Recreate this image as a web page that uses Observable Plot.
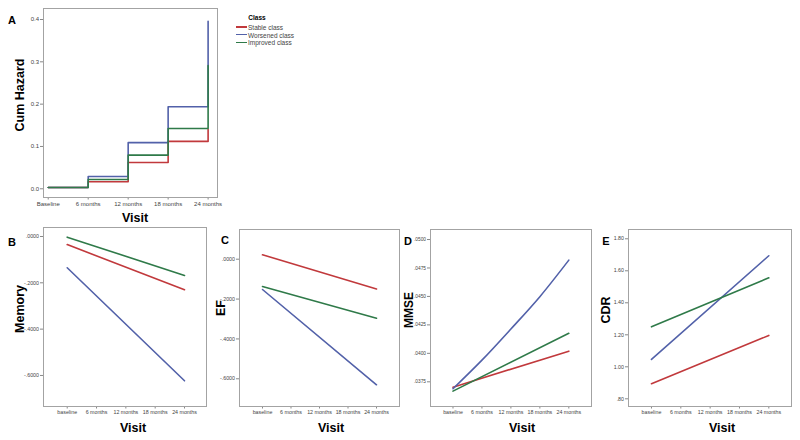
<!DOCTYPE html>
<html>
<head>
<meta charset="utf-8">
<script src="https://cdn.jsdelivr.net/npm/d3@7"></script>
<script src="https://cdn.jsdelivr.net/npm/@observablehq/plot@0.6"></script>
<style>
  html, body { margin: 0; padding: 0; background: #fff; }
  #root { position: relative; width: 800px; height: 440px; overflow: hidden; font-family: "Liberation Sans", Arial, sans-serif; }
  .panel { position: absolute; }
  .lbl { position: absolute; transform: translate(-50%, -50%); white-space: nowrap; font-weight: bold; color: #000; }
  .rot { transform: translate(-50%, -50%) rotate(-90deg); }
</style>
</head>
<body>
<div id="root"></div>
<script>
// ---------- data ----------
const visitMonths = [0, 6, 12, 18, 24];
const visitLabelsA = ["Baseline", "6 months", "12 months", "18 months", "24 months"];
const visitLabels = ["baseline", "6 months", "12 months", "18 months", "24 months"];
const classNames = ["Stable class", "Worsened class", "Improved class"];
const endMonths = [0, 24];

// Panel A: cumulative hazard (step)
const hazardStable = [0.003, 0.0165, 0.062, 0.112, 0.14];
const hazardWorsened = [0.003, 0.029, 0.109, 0.194, 0.396];
const hazardImproved = [0.003, 0.022, 0.0795, 0.1425, 0.291];

// Panel B: Memory (baseline, 24 months)
const memoryStable = [-0.035, -0.230];
const memoryWorsened = [-0.135, -0.623];
const memoryImproved = [-0.003, -0.168];

// Panel C: EF
const efStable = [0.022, -0.149];
const efWorsened = [-0.152, -0.630];
const efImproved = [-0.137, -0.296];

// Panel D: MMSE
const mmseStable = [0.03703, 0.04019];
const mmseWorsened = [0.03689, 0.0394, 0.04214, 0.04498, 0.04819];
const mmseImproved = [0.03668, 0.04176];

// Panel E: CDR
const cdrStable = [0.894, 1.196];
const cdrWorsened = [1.046, 1.694];
const cdrImproved = [1.25, 1.556];

// tick labels
const yTicksA = [0, 0.1, 0.2, 0.3, 0.4];
const yTickLabelsA = ["0.0", "0.1", "0.2", "0.3", "0.4"];
const yTicksBC = [0, -0.2, -0.4, -0.6];
const yTickLabelsBC = [".0000", "-.2000", "-.4000", "-.6000"];
const yTicksD = [0.0375, 0.04, 0.0425, 0.045, 0.0475, 0.05];
const yTickLabelsD = [".0375", ".0400", ".0425", ".0450", ".0475", ".0500"];
const yTicksE = [0.8, 1.0, 1.2, 1.4, 1.6, 1.8];
const yTickLabelsE = [".80", "1.00", "1.20", "1.40", "1.60", "1.80"];

// ---------- styling ----------
const classColors = ["#c1393c", "#5261a9", "#2f7a49"];
const root = document.getElementById("root");
const FONT = "Liberation Sans, Arial, sans-serif";

function rowsOf(seriesList) {
  return seriesList.flatMap(s => s.y.map((v, i) => ({ month: s.x[i], value: v, cls: s.cls })));
}

function panel(cfg) {
  const rows = rowsOf(cfg.series);
  const xMap = new Map(visitMonths.map((m, i) => [m, cfg.xLabels[i]]));
  const yMap = new Map(cfg.yTicks.map((t, i) => [t, cfg.yLabels[i]]));
  const plot = Plot.plot({
    width: cfg.width,
    height: cfg.height,
    marginLeft: cfg.ml, marginRight: cfg.mr, marginTop: cfg.mt, marginBottom: cfg.mb,
    style: { background: "transparent", overflow: "visible", fontFamily: FONT },
    x: { type: "linear", domain: cfg.xDomain, axis: null },
    y: { type: "linear", domain: cfg.yDomain, axis: null },
    color: { domain: classNames, range: classColors },
    marks: [
      Plot.axisX(visitMonths, { anchor: "bottom", tickFormat: d => xMap.get(d), tickSize: 2.5, tickPadding: 1.5, fontSize: cfg.fs, fill: "#444", stroke: "#888", label: null }),
      Plot.axisY(cfg.yTicks, { anchor: "left", tickFormat: d => yMap.get(d), tickSize: 3, tickPadding: 1.5, fontSize: cfg.yfs || cfg.fs, fill: "#444", stroke: "#888", label: null }),
      Plot.line(rows, { x: "month", y: "value", z: "cls", stroke: "cls", strokeWidth: 1.6, curve: cfg.curve || "linear" }),
      Plot.frame({ stroke: "#a3a3a3", strokeWidth: 1 })
    ]
  });
  const div = document.createElement("div");
  div.className = "panel";
  div.style.left = cfg.left + "px";
  div.style.top = cfg.top + "px";
  div.appendChild(plot);
  root.appendChild(div);
}

function label(text, x, y, size, rotate) {
  const d = document.createElement("div");
  d.className = "lbl" + (rotate ? " rot" : "");
  d.style.left = x + "px";
  d.style.top = y + "px";
  d.style.fontSize = size + "px";
  d.textContent = text;
  root.appendChild(d);
}

// Panel A
panel({
  left: 0, top: 0, width: 230, height: 230, ml: 43, mr: 13, mt: 8, mb: 33, fs: 6,
  xDomain: [-0.71, 25.41], yDomain: [-0.0206, 0.426],
  yTicks: yTicksA, yLabels: yTickLabelsA, xLabels: visitLabelsA, curve: "step-after",
  series: [
    { cls: classNames[0], x: visitMonths, y: hazardStable },
    { cls: classNames[1], x: visitMonths, y: hazardWorsened },
    { cls: classNames[2], x: visitMonths, y: hazardImproved }
  ]
});

// Panel B
panel({
  left: 0, top: 220, width: 220, height: 220, ml: 43, mr: 14, mt: 7, mb: 34, fs: 5.3,
  xDomain: [-4.85, 28.5], yDomain: [-0.734, 0.0388],
  yTicks: yTicksBC, yLabels: yTickLabelsBC, xLabels: visitLabels,
  series: [
    { cls: classNames[0], x: endMonths, y: memoryStable },
    { cls: classNames[1], x: endMonths, y: memoryWorsened },
    { cls: classNames[2], x: endMonths, y: memoryImproved }
  ]
});

// Panel C
panel({
  left: 200, top: 220, width: 210, height: 220, ml: 39, mr: 11, mt: 9, mb: 34, fs: 5.3,
  xDomain: [-4.84, 28.84], yDomain: [-0.739, 0.149],
  yTicks: yTicksBC, yLabels: yTickLabelsBC, xLabels: visitLabels,
  series: [
    { cls: classNames[0], x: endMonths, y: efStable },
    { cls: classNames[1], x: endMonths, y: efWorsened },
    { cls: classNames[2], x: endMonths, y: efImproved }
  ]
});

// Panel D
panel({
  left: 400, top: 220, width: 200, height: 220, ml: 30, mr: 9, mt: 9, mb: 34, fs: 5.3, yfs: 4.8,
  xDomain: [-4.66, 28.7], yDomain: [0.03533, 0.05088],
  yTicks: yTicksD, yLabels: yTickLabelsD, xLabels: visitLabels, curve: "monotone-x",
  series: [
    { cls: classNames[0], x: endMonths, y: mmseStable },
    { cls: classNames[1], x: visitMonths, y: mmseWorsened },
    { cls: classNames[2], x: endMonths, y: mmseImproved }
  ]
});

// Panel E
panel({
  left: 600, top: 220, width: 200, height: 220, ml: 28, mr: 9, mt: 9, mb: 34, fs: 5.3,
  xDomain: [-4.7, 28.64], yDomain: [0.752, 1.858],
  yTicks: yTicksE, yLabels: yTickLabelsE, xLabels: visitLabels,
  series: [
    { cls: classNames[0], x: endMonths, y: cdrStable },
    { cls: classNames[1], x: endMonths, y: cdrWorsened },
    { cls: classNames[2], x: endMonths, y: cdrImproved }
  ]
});

// Panel letters
label("A", 12, 20, 11);
label("B", 12, 242, 11);
label("C", 225, 240, 11);
label("D", 408, 241, 11);
label("E", 606, 241, 11);

// Axis titles
label("Cum Hazard", 20, 95, 12.5, true);
label("Memory", 20, 309, 12.5, true);
label("EF", 221, 308, 12.5, true);
label("MMSE", 408.5, 310, 12, true);
label("CDR", 606, 310, 12.5, true);
label("Visit", 135, 218, 12.5);
label("Visit", 133, 428, 12.5);
label("Visit", 331, 428, 12.5);
label("Visit", 522, 428, 12.5);
label("Visit", 722, 428, 12.5);

// Legend (HTML)
const legendTitle = document.createElement("div");
legendTitle.className = "lbl";
legendTitle.style.left = "257px"; legendTitle.style.top = "17px";
legendTitle.style.fontSize = "6.5px";
legendTitle.textContent = "Class";
root.appendChild(legendTitle);
classNames.forEach((name, i) => {
  const y = 27 + i * 7.7;
  const sw = document.createElement("div");
  sw.style.cssText = `position:absolute;left:236px;top:${y - 0.6}px;width:11px;height:1.3px;background:${classColors[i]};`;
  root.appendChild(sw);
  const t = document.createElement("div");
  t.style.cssText = `position:absolute;left:248px;top:${y}px;transform:translateY(-50%);font-size:6.5px;color:#444;white-space:nowrap;`;
  t.textContent = name;
  root.appendChild(t);
});
</script>
</body>
</html>
